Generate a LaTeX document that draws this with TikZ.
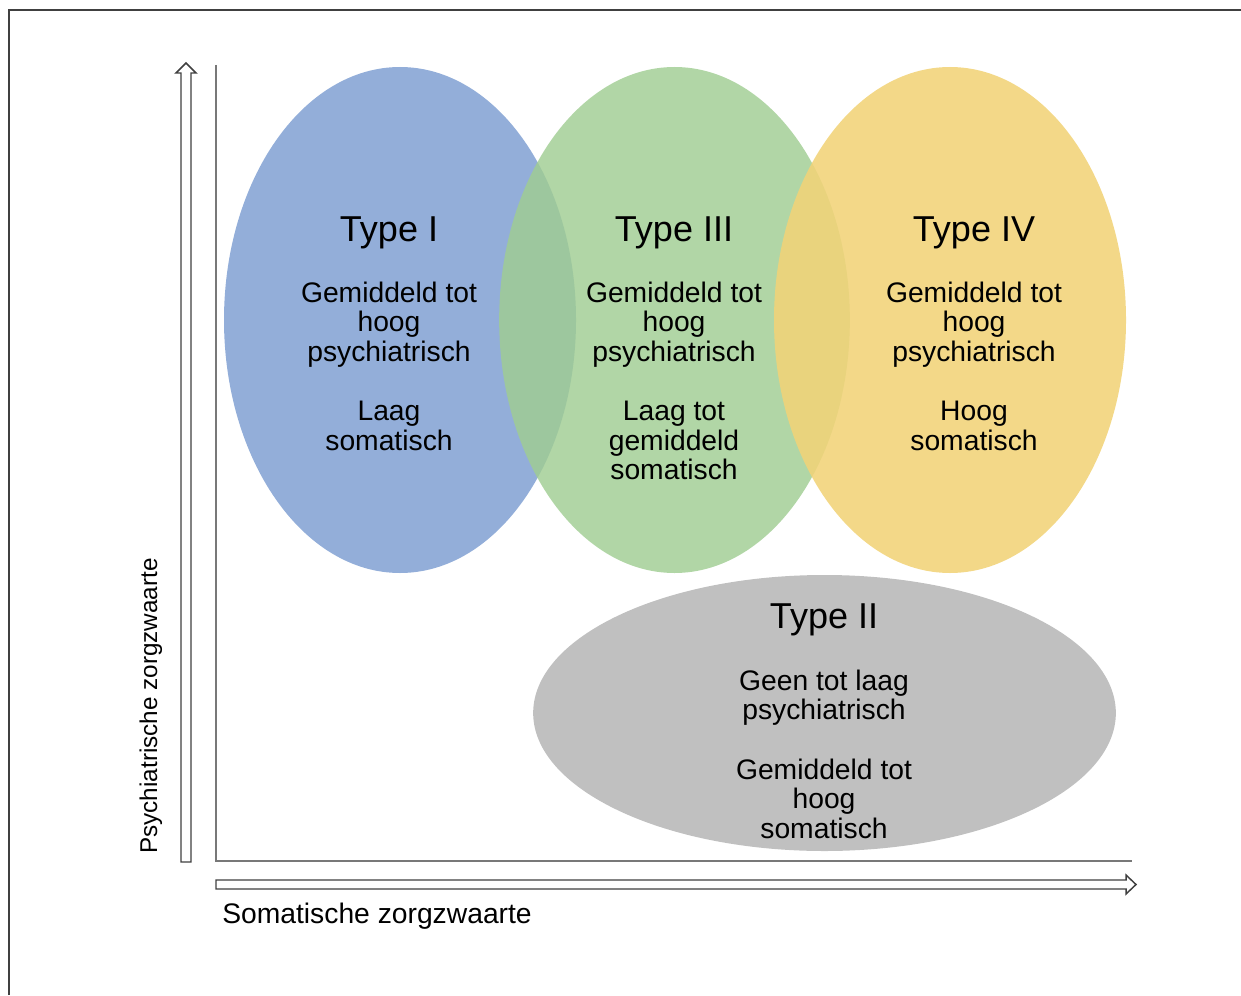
\documentclass[tikz,border=0pt]{standalone}
\usepackage{fontspec}
\setmainfont{Liberation Sans}
\usetikzlibrary{shapes.geometric}
\definecolor{cblue}{RGB}{147,174,217}
\definecolor{cgreen}{RGB}{160,205,146}
\definecolor{cyellow}{RGB}{241,211,120}
\definecolor{cgray}{RGB}{192,192,192}
\definecolor{axisgray}{RGB}{120,120,120}
\definecolor{framegray}{RGB}{64,64,64}
\tikzset{
  blob/.style={ellipse, inner sep=0pt, draw=none},
  ttl/.style={anchor=base, inner sep=0pt, font=\fontsize{27}{31}\selectfont},
  txt/.style={anchor=base, inner sep=0pt, font=\fontsize{21.2}{25}\selectfont},
  hollow/.style={draw=framegray, line width=1.1pt, fill=white, line join=miter},
  axisline/.style={draw=axisgray, line width=1.1pt}
}
\begin{document}
\begin{tikzpicture}[x=0.75pt,y=-0.75pt]
\useasboundingbox (0,0) rectangle (1241,995);
% frame
\draw[framegray, line width=1.5pt] (9,995) -- (9,10.5) -- (1241,10.5);
% ellipses
\node[blob, fill=cblue, minimum width=264pt, minimum height=379.5pt] (e1) at (400,320) {};
\node[blob, fill=cgreen, fill opacity=0.82, minimum width=263pt, minimum height=379.5pt] (e3) at (674.5,320) {};
\node[blob, fill=cyellow, fill opacity=0.88, minimum width=264pt, minimum height=379.5pt] (e4) at (950,320) {};
\node[blob, fill=cgray, minimum width=437pt, minimum height=207pt] (e2) at (824.5,713) {};
% axes
\coordinate (o) at (216,861);
\coordinate (ytop) at (216,65);
\coordinate (xend) at (1132,861);
\draw[axisline] (ytop) -- (o) -- (xend);
% hollow arrows
\draw[hollow] (181,862) -- (181,73) -- (176,73) -- (186,63) -- (196,73) -- (191,73) -- (191,862) -- cycle;
\draw[hollow] (216,880) -- (1126,880) -- (1126,875) -- (1136,884.5) -- (1126,894) -- (1126,889) -- (216,889) -- cycle;
% axis labels
\node[anchor=base west, inner sep=0pt, font=\fontsize{21.2}{25}\selectfont] (xl) at (222,923) {Somatische zorgzwaarte};
\node[anchor=base, rotate=90, inner sep=0pt, font=\fontsize{18.2}{22}\selectfont] (yl) at (157,706) {Psychiatrische zorgzwaarte};
% Type I
\node[ttl] (t1) at (389,241) {Type I};
\node[txt] (t1a) at (389,302) {Gemiddeld tot};
\node[txt] (t1b) at (389,331.6) {hoog};
\node[txt] (t1c) at (389,361.2) {psychiatrisch};
\node[txt] (t1d) at (389,420.4) {Laag};
\node[txt] (t1e) at (389,450) {somatisch};
% Type III
\node[ttl] (t3) at (674,241) {Type III};
\node[txt] (t3a) at (674,302) {Gemiddeld tot};
\node[txt] (t3b) at (674,331.6) {hoog};
\node[txt] (t3c) at (674,361.2) {psychiatrisch};
\node[txt] (t3d) at (674,420.4) {Laag tot};
\node[txt] (t3e) at (674,450) {gemiddeld};
\node[txt] (t3f) at (674,479.6) {somatisch};
% Type IV
\node[ttl] (t4) at (974,241) {Type IV};
\node[txt] (t4a) at (974,302) {Gemiddeld tot};
\node[txt] (t4b) at (974,331.6) {hoog};
\node[txt] (t4c) at (974,361.2) {psychiatrisch};
\node[txt] (t4d) at (974,420.4) {Hoog};
\node[txt] (t4e) at (974,450) {somatisch};
% Type II
\node[ttl] (t2) at (824,628) {Type II};
\node[txt] (t2a) at (824,690) {Geen tot laag};
\node[txt] (t2b) at (824,719.6) {psychiatrisch};
\node[txt] (t2c) at (824,779) {Gemiddeld tot};
\node[txt] (t2d) at (824,808.6) {hoog};
\node[txt] (t2e) at (824,838.2) {somatisch};
\end{tikzpicture}
\end{document}
